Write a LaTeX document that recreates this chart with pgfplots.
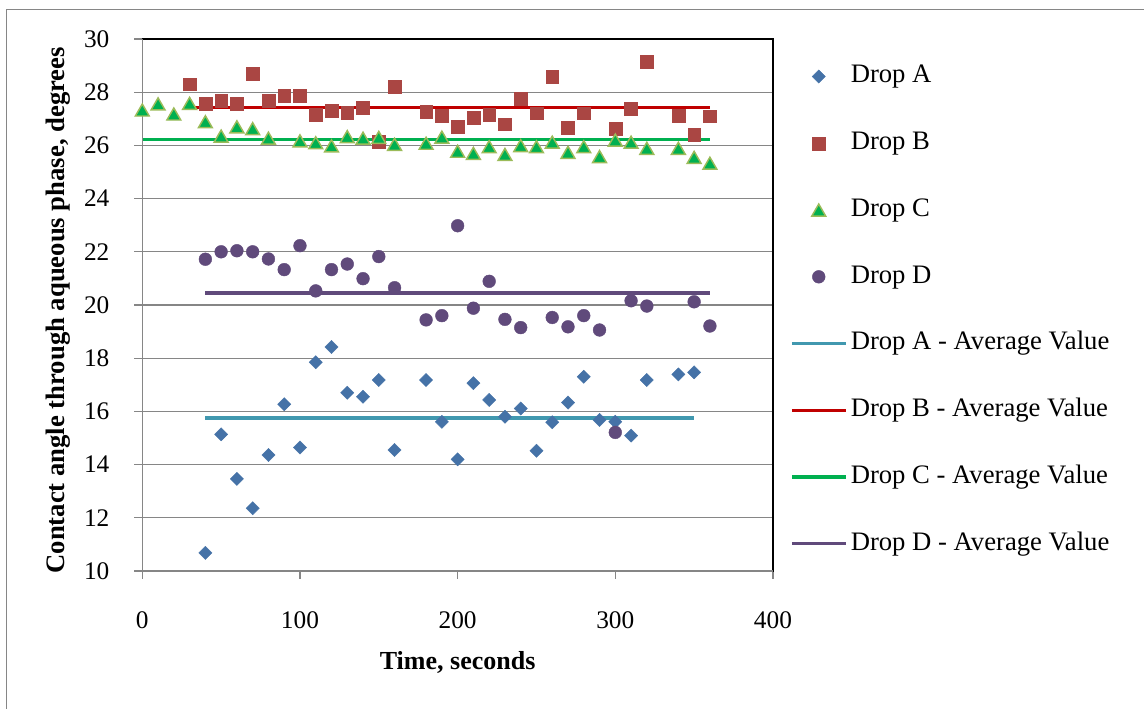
\documentclass[border=0pt]{standalone}
\usepackage{pgfplots}
\pgfplotsset{compat=1.18}
\usepackage{pgfplotstable}
\usepackage{fontspec}
\setmainfont{Liberation Serif}

\definecolor{cA}{HTML}{4572A7}
\definecolor{cB}{HTML}{AA4643}
\definecolor{cCf}{HTML}{00B050}
\definecolor{cCd}{HTML}{9BBB59}
\definecolor{cD}{HTML}{604A7B}
\definecolor{lA}{HTML}{4198AF}
\definecolor{lB}{HTML}{C00000}
\definecolor{lC}{HTML}{00B050}
\definecolor{lD}{HTML}{604A7B}
\definecolor{axgray}{HTML}{868686}

\pgfplotstableread{
t v
40 10.68
50 15.14
60 13.46
70 12.36
80 14.36
90 16.27
100 14.64
110 17.85
120 18.42
130 16.70
140 16.55
150 17.18
160 14.55
180 17.18
190 15.61
200 14.20
210 17.06
220 16.43
230 15.80
240 16.11
250 14.52
260 15.59
270 16.33
280 17.30
290 15.68
300 15.61
310 15.09
320 17.18
340 17.39
350 17.47
}\dropA

\pgfplotstableread{
t v
30 28.30
40 27.56
50 27.68
60 27.56
70 28.70
80 27.68
90 27.87
100 27.87
110 27.14
120 27.30
130 27.23
140 27.42
150 26.14
160 28.21
180 27.27
190 27.11
200 26.70
210 27.04
220 27.14
230 26.80
240 27.77
250 27.21
260 28.58
270 26.67
280 27.21
300 26.62
310 27.37
320 29.15
340 27.12
350 26.39
360 27.10
}\dropB

\pgfplotstableread{
t v
0 27.33
10 27.56
20 27.18
30 27.58
40 26.89
50 26.35
60 26.70
70 26.63
80 26.27
100 26.17
110 26.10
120 25.98
130 26.33
140 26.27
150 26.30
160 26.04
180 26.08
190 26.31
200 25.78
210 25.70
220 25.95
230 25.66
240 25.99
250 25.95
260 26.12
270 25.74
280 25.95
290 25.58
300 26.20
310 26.12
320 25.89
340 25.89
350 25.55
360 25.33
}\dropC

\pgfplotstableread{
t v
40 21.72
50 22.00
60 22.04
70 22.00
80 21.73
90 21.33
100 22.23
110 20.53
120 21.33
130 21.54
140 20.99
150 21.82
160 20.65
180 19.44
190 19.60
200 22.98
210 19.88
220 20.89
230 19.46
240 19.15
260 19.53
270 19.18
280 19.60
290 19.06
300 15.21
310 20.16
320 19.96
350 20.12
360 19.21
}\dropD

\begin{document}
\begin{tikzpicture}
\path[use as bounding box] (0,0) rectangle (858pt,531.75pt);
\draw[color=axgray, line width=1.1pt] (5pt,-20pt) -- (5pt,524.75pt) -- (880pt,524.75pt);
\begin{axis}[
  at={(106.725pt,103.5pt)}, anchor=south west,
  scale only axis, width=473pt, height=399pt,
  xmin=0, xmax=400, ymin=10, ymax=30,
  xtick={0,100,200,300,400}, ytick={10,12,...,30},
  ymajorgrids, grid style={color=axgray, line width=0.9pt},
  axis line style={black, line width=0.9pt},
  tick pos=left, tick align=outside, major tick length=6pt,
  tick style={color=axgray, line width=1pt},
  /pgf/number format/assume math mode=true,
  ticklabel style={font=\fontsize{19}{22}\selectfont},
  y tick label style={anchor=east, inner sep=0pt, xshift=-18.5pt},
  x tick label style={anchor=north, inner sep=0pt, yshift=-24pt},
  xlabel={\textbf{Time, seconds}},
  ylabel={\textbf{Contact angle through aqueous phase, degrees}},
  xlabel style={font=\fontsize{19.5}{23}\selectfont, at={(axis description cs:0.5,-0.186)}, anchor=base, inner sep=0pt},
  ylabel style={font=\fontsize{20}{24}\selectfont, at={(axis description cs:-0.1332,0.49)}, anchor=center, inner sep=0pt},
  clip=false,
  legend image code/.code={\draw[mark repeat=2,mark phase=2,#1] plot coordinates {(0pt,0pt) (20.25pt,0pt) (40.5pt,0pt)};},
  legend style={at={(axis description cs:1.0267,0.953)}, anchor=north west,
    draw=none, fill=none, inner sep=0pt, row sep=31.55pt, column sep=2.5pt,
    font=\fontsize{20}{24}\selectfont,
    nodes={inner sep=0pt, text height=14pt, text depth=4.5pt}},
  legend cell align=left,
]
\addplot[only marks, mark=square*, mark size=3.5pt, mark options={rotate=45, fill=cA, draw=cA, line width=0.3pt}] table[x=t,y=v] {\dropA};
\addlegendentry{Drop A}
\addplot[only marks, mark=square*, mark size=4.8pt, mark options={fill=cB, draw=cB, line width=0.3pt}] table[x=t,y=v] {\dropB};
\addlegendentry{Drop B}
\addplot[only marks, mark=triangle*, mark size=6pt, mark options={fill=cCf, draw=cCd, line width=1.1pt, yshift=-1.5pt}] table[x=t,y=v] {\dropC};
\addlegendentry{Drop C}
\addplot[only marks, mark=*, mark size=4.8pt, mark options={fill=cD, draw=cD, line width=0.3pt}] table[x=t,y=v] {\dropD};
\addlegendentry{Drop D}
\addplot[no marks, color=lA, line width=2.5pt] coordinates {(40,15.75) (350,15.75)};
\addlegendentry{Drop A - Average Value}
\addplot[no marks, color=lB, line width=2.5pt] coordinates {(30,27.43) (360,27.43)};
\addlegendentry{Drop B - Average Value}
\addplot[no marks, color=lC, line width=2.5pt] coordinates {(0,26.23) (360,26.23)};
\addlegendentry{Drop C - Average Value}
\addplot[no marks, color=lD, line width=2.5pt] coordinates {(40,20.45) (360,20.45)};
\addlegendentry{Drop D - Average Value}
\draw[color=axgray, line width=1.2pt] (rel axis cs:0,0) -- (rel axis cs:0,1);
\draw[color=axgray, line width=1.2pt] (rel axis cs:0,0) -- (rel axis cs:1,0);
\end{axis}
\end{tikzpicture}
\end{document}
